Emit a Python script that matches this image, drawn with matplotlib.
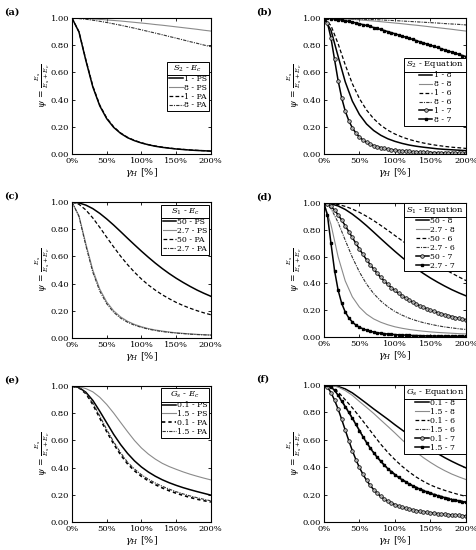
import matplotlib
matplotlib.use("Agg")
import matplotlib.pyplot as plt
from matplotlib.lines import Line2D
from matplotlib.ticker import FuncFormatter, MultipleLocator

plt.rcParams['font.family'] = ['DejaVu Serif']
plt.rcParams['mathtext.fontset'] = 'dejavuserif'
plt.rcParams['font.size'] = 6

# shear strain grids (%)
gamma_10 = [0, 10, 20, 30, 40, 50, 60, 70, 80, 90, 100,
            110, 120, 130, 140, 150, 160, 170, 180, 190, 200]
gamma_5 = [0, 5, 10, 15, 20, 25, 30, 35, 40, 45, 50, 55, 60, 65, 70, 75, 80,
           85, 90, 95, 100, 105, 110, 115, 120, 125, 130, 135, 140, 145, 150,
           155, 160, 165, 170, 175, 180, 185, 190, 195, 200]

# (a) S2 - Ec
a_1_ps = [1.000, 0.898, 0.687, 0.493, 0.354, 0.260, 0.196, 0.152, 0.120, 0.098, 0.081,
          0.068, 0.057, 0.049, 0.043, 0.037, 0.033, 0.029, 0.026, 0.024, 0.021]
a_8_ps = [1.000, 0.999, 0.997, 0.994, 0.991, 0.987, 0.983, 0.979, 0.974, 0.969, 0.964,
          0.959, 0.953, 0.948, 0.942, 0.936, 0.930, 0.924, 0.918, 0.911, 0.905]
a_1_pa = [1.000, 0.900, 0.692, 0.500, 0.360, 0.265, 0.200, 0.155, 0.123, 0.100, 0.083,
          0.069, 0.059, 0.051, 0.044, 0.038, 0.034, 0.030, 0.027, 0.024, 0.022]
a_8_pa = [1.000, 0.997, 0.992, 0.985, 0.977, 0.968, 0.958, 0.948, 0.937, 0.926, 0.914,
          0.902, 0.890, 0.878, 0.865, 0.853, 0.840, 0.827, 0.815, 0.802, 0.790]

# (b) S2 - Equation
b_1_8 = [1.000, 0.911, 0.719, 0.532, 0.390, 0.291, 0.221, 0.173, 0.138, 0.112, 0.093,
         0.078, 0.066, 0.057, 0.050, 0.044, 0.038, 0.034, 0.031, 0.028, 0.025]
b_8_8 = [1.000, 0.999, 0.997, 0.994, 0.991, 0.987, 0.983, 0.979, 0.974, 0.969, 0.964,
         0.959, 0.953, 0.948, 0.942, 0.936, 0.930, 0.924, 0.918, 0.911, 0.905]
b_1_6 = [1.000, 0.945, 0.812, 0.657, 0.518, 0.408, 0.324, 0.260, 0.212, 0.175, 0.147,
         0.125, 0.107, 0.093, 0.081, 0.071, 0.063, 0.056, 0.050, 0.046, 0.041]
b_8_6 = [1.000, 0.999, 0.998, 0.997, 0.995, 0.993, 0.991, 0.989, 0.987, 0.984, 0.982,
         0.979, 0.976, 0.973, 0.970, 0.967, 0.964, 0.960, 0.957, 0.954, 0.950]
b_1_7 = [1.000, 0.966, 0.853, 0.696, 0.541, 0.414, 0.317, 0.246, 0.193, 0.155, 0.125,
         0.103, 0.086, 0.073, 0.062, 0.054, 0.047, 0.041, 0.036, 0.032, 0.028,
         0.025, 0.023, 0.021, 0.019, 0.017, 0.016, 0.014, 0.013, 0.012, 0.011,
         0.010, 0.010, 0.009, 0.009, 0.008, 0.008, 0.007, 0.007, 0.006, 0.006]
b_8_7 = [1.000, 0.999, 0.997, 0.994, 0.990, 0.986, 0.981, 0.976, 0.971, 0.965, 0.959,
         0.952, 0.946, 0.939, 0.931, 0.924, 0.917, 0.909, 0.901, 0.893, 0.885,
         0.877, 0.868, 0.860, 0.852, 0.843, 0.835, 0.826, 0.818, 0.809, 0.801,
         0.792, 0.784, 0.775, 0.767, 0.758, 0.750, 0.742, 0.733, 0.725, 0.717]

# (c) S1 - Ec
c_50_ps = [1.000, 0.994, 0.978, 0.952, 0.917, 0.876, 0.831, 0.783, 0.734, 0.686, 0.639,
           0.594, 0.551, 0.511, 0.474, 0.440, 0.409, 0.380, 0.353, 0.329, 0.307]
c_27_ps = [1.000, 0.900, 0.692, 0.500, 0.360, 0.265, 0.200, 0.155, 0.123, 0.100, 0.083,
           0.069, 0.059, 0.051, 0.044, 0.038, 0.034, 0.030, 0.027, 0.024, 0.022]
c_50_pa = [1.000, 0.984, 0.942, 0.883, 0.814, 0.741, 0.670, 0.602, 0.540, 0.484, 0.434,
           0.390, 0.352, 0.318, 0.289, 0.262, 0.239, 0.219, 0.201, 0.185, 0.171]
c_27_pa = [1.000, 0.894, 0.678, 0.483, 0.345, 0.252, 0.189, 0.146, 0.116, 0.094, 0.078,
           0.065, 0.055, 0.047, 0.041, 0.036, 0.032, 0.028, 0.025, 0.023, 0.021]

# (d) S1 - Equation
d_50_8 = [1.000, 0.994, 0.978, 0.952, 0.917, 0.876, 0.831, 0.783, 0.734, 0.686, 0.639,
          0.594, 0.551, 0.511, 0.474, 0.440, 0.409, 0.380, 0.353, 0.329, 0.307]
d_27_8 = [1.000, 0.839, 0.599, 0.419, 0.300, 0.223, 0.171, 0.135, 0.110, 0.091, 0.076,
          0.065, 0.056, 0.049, 0.043, 0.038, 0.034, 0.031, 0.028, 0.025, 0.023]
d_50_6 = [1.000, 0.997, 0.989, 0.975, 0.955, 0.930, 0.901, 0.869, 0.833, 0.796, 0.757,
          0.719, 0.680, 0.643, 0.607, 0.571, 0.538, 0.506, 0.476, 0.448, 0.421]
d_27_6 = [1.000, 0.959, 0.855, 0.723, 0.595, 0.485, 0.395, 0.324, 0.269, 0.225, 0.190,
          0.163, 0.140, 0.122, 0.107, 0.095, 0.084, 0.075, 0.068, 0.061, 0.056]
d_50_7 = [1.000, 0.993, 0.974, 0.947, 0.912, 0.873, 0.831, 0.787, 0.743, 0.699, 0.657,
          0.616, 0.577, 0.541, 0.507, 0.475, 0.445, 0.418, 0.392, 0.368, 0.347,
          0.326, 0.308, 0.291, 0.275, 0.260, 0.246, 0.233, 0.222, 0.211, 0.200,
          0.191, 0.182, 0.174, 0.166, 0.159, 0.152, 0.145, 0.139, 0.134, 0.128]
d_27_7 = [1.000, 0.908, 0.698, 0.496, 0.350, 0.252, 0.187, 0.143, 0.112, 0.089, 0.073,
          0.061, 0.051, 0.043, 0.037, 0.032, 0.028, 0.025, 0.022, 0.020, 0.018,
          0.016, 0.015, 0.014, 0.012, 0.011, 0.011, 0.010, 0.009, 0.008, 0.008,
          0.007, 0.007, 0.006, 0.006, 0.006, 0.005, 0.005, 0.005, 0.005, 0.004]

# (e) Gs - Ec
e_01_ps = [1.000, 0.990, 0.955, 0.895, 0.815, 0.730, 0.645, 0.570, 0.505, 0.450, 0.405,
           0.368, 0.337, 0.311, 0.289, 0.270, 0.253, 0.238, 0.224, 0.211, 0.198]
e_15_ps = [1.000, 0.996, 0.982, 0.958, 0.918, 0.865, 0.802, 0.733, 0.665, 0.600, 0.545,
           0.500, 0.463, 0.432, 0.408, 0.388, 0.369, 0.352, 0.337, 0.323, 0.310]
e_01_pa = [1.000, 0.988, 0.945, 0.865, 0.765, 0.665, 0.575, 0.495, 0.428, 0.377, 0.336,
           0.303, 0.275, 0.251, 0.230, 0.212, 0.196, 0.181, 0.168, 0.157, 0.147]
e_15_pa = [1.000, 0.990, 0.950, 0.875, 0.780, 0.680, 0.590, 0.510, 0.440, 0.390, 0.348,
           0.315, 0.287, 0.263, 0.242, 0.223, 0.207, 0.192, 0.179, 0.167, 0.156]

# (f) Gs - Equation
f_01_8 = [1.000, 0.999, 0.990, 0.972, 0.943, 0.905, 0.866, 0.826, 0.788, 0.750, 0.710,
          0.672, 0.635, 0.598, 0.563, 0.530, 0.500, 0.470, 0.443, 0.418, 0.395]
f_15_8 = [1.000, 0.998, 0.985, 0.960, 0.925, 0.880, 0.837, 0.793, 0.745, 0.698, 0.650,
          0.600, 0.553, 0.510, 0.470, 0.435, 0.403, 0.375, 0.350, 0.329, 0.310]
f_01_6 = [1.000, 0.993, 0.950, 0.893, 0.834, 0.770, 0.703, 0.635, 0.568, 0.508, 0.455,
          0.407, 0.365, 0.328, 0.297, 0.270, 0.249, 0.231, 0.215, 0.200, 0.187]
f_15_6 = [1.000, 0.988, 0.930, 0.848, 0.763, 0.673, 0.586, 0.510, 0.447, 0.394, 0.350,
          0.313, 0.282, 0.256, 0.233, 0.214, 0.197, 0.182, 0.169, 0.158, 0.148]
f_01_7 = [1.000, 0.985, 0.945, 0.890, 0.825, 0.750, 0.672, 0.595, 0.522, 0.456, 0.398,
          0.348, 0.305, 0.268, 0.237, 0.210, 0.187, 0.168, 0.152, 0.139, 0.127,
          0.117, 0.109, 0.101, 0.095, 0.089, 0.083, 0.079, 0.074, 0.070, 0.067,
          0.064, 0.061, 0.058, 0.056, 0.054, 0.052, 0.050, 0.048, 0.046, 0.045]
f_15_7 = [1.000, 0.997, 0.985, 0.962, 0.925, 0.882, 0.842, 0.800, 0.757, 0.713, 0.667,
          0.622, 0.580, 0.541, 0.505, 0.472, 0.442, 0.414, 0.389, 0.366, 0.345,
          0.326, 0.308, 0.292, 0.277, 0.263, 0.251, 0.239, 0.228, 0.218, 0.209,
          0.200, 0.192, 0.184, 0.177, 0.170, 0.164, 0.158, 0.153, 0.148, 0.143]

GRAY = '#8a8a8a'
DARK = '#333333'

# line styles
s_solid = dict(color='black', lw=1.1)
s_gray = dict(color=GRAY, lw=0.8)
s_dash = dict(color='black', lw=0.9, dashes=(3, 1.8))
s_dashdot = dict(color=DARK, lw=0.8, dashes=(3, 1, 1, 1))
s_circ = dict(color='black', lw=1.1, marker='o', ms=2.6, mfc='#b0b0b0', mec='black', mew=0.5)
s_sq = dict(color='black', lw=1.1, marker='s', ms=2.0, mfc='black', mec='black')

panels = [
    # label, axes rect (l, b, w, h), legend title, series, legend anchor
    ('(a)', (0.151, 0.720, 0.291, 0.247), r'$S_2$ - $E_c$',
     [(gamma_10, a_1_ps, '1 - PS', s_solid), (gamma_10, a_8_ps, '8 - PS', s_gray),
      (gamma_10, a_1_pa, '1 - PA', s_dash), (gamma_10, a_8_pa, '8 - PA', s_dashdot)],
     (0.985, 0.68)),
    ('(b)', (0.679, 0.720, 0.298, 0.247), r'$S_2$ - Equation',
     [(gamma_10, b_1_8, '1 - 8', s_solid), (gamma_10, b_8_8, '8 - 8', s_gray),
      (gamma_10, b_1_6, '1 - 6', s_dash), (gamma_10, b_8_6, '8 - 6', s_dashdot),
      (gamma_5, b_1_7, '1 - 7', s_circ), (gamma_5, b_8_7, '8 - 7', s_sq)],
     (1.0, 0.71)),
    ('(c)', (0.151, 0.3855, 0.291, 0.247), r'$S_1$ - $E_c$',
     [(gamma_10, c_50_ps, '50 - PS', s_solid), (gamma_10, c_27_ps, '2.7 - PS', s_gray),
      (gamma_10, c_50_pa, '50 - PA', s_dash), (gamma_10, c_27_pa, '2.7 - PA', s_dashdot)],
     (0.99, 0.98)),
    ('(d)', (0.679, 0.3873, 0.298, 0.2436), r'$S_1$ - Equation',
     [(gamma_10, d_50_8, '50 - 8', s_solid), (gamma_10, d_27_8, '2.7 - 8', s_gray),
      (gamma_10, d_50_6, '50 - 6', s_dash), (gamma_10, d_27_6, '2.7 - 6', s_dashdot),
      (gamma_5, d_50_7, '50 - 7', s_circ), (gamma_5, d_27_7, '2.7 - 7', s_sq)],
     (1.0, 1.0)),
    ('(e)', (0.151, 0.0509, 0.291, 0.247), r'$G_s$ - $E_c$',
     [(gamma_10, e_01_ps, '0.1 - PS', s_solid), (gamma_10, e_15_ps, '1.5 - PS', s_gray),
      (gamma_10, e_01_pa, '0.1 - PA', dict(color='black', lw=1.2, dashes=(2, 1.8))),
      (gamma_10, e_15_pa, '1.5 - PA', s_dashdot)],
     (0.99, 0.985)),
    ('(f)', (0.679, 0.0509, 0.298, 0.249), r'$G_s$ - Equation',
     [(gamma_10, f_01_8, '0.1 - 8', s_solid), (gamma_10, f_15_8, '1.5 - 8', s_gray),
      (gamma_10, f_01_6, '0.1 - 6', s_dash), (gamma_10, f_15_6, '1.5 - 6', s_dashdot),
      (gamma_5, f_01_7, '0.1 - 7', s_circ), (gamma_5, f_15_7, '1.5 - 7', s_sq)],
     (1.0, 1.0)),
]

fig = plt.figure(figsize=(4.77, 5.5), dpi=100)
legends = []
for label, rect, title, series, anchor in panels:
    ax = fig.add_axes(rect)
    for xs, ys, name, style in series:
        ax.plot(xs, ys, label=name, **style)
    ax.set_xlim(0, 200)
    ax.set_ylim(0, 1)
    ax.xaxis.set_major_locator(MultipleLocator(50))
    ax.yaxis.set_major_locator(MultipleLocator(0.2))
    ax.xaxis.set_major_formatter(FuncFormatter(lambda v, p: f'{v:.0f}%'))
    ax.yaxis.set_major_formatter(FuncFormatter(lambda v, p: f'{v:.2f}'))
    ax.tick_params(direction='in', top=True, right=True, length=2.2, width=0.6,
                   labelsize=6, pad=2)
    for sp in ax.spines.values():
        sp.set_linewidth(0.8)
    ax.set_xlabel(r'$\gamma_H$ [%]', fontsize=7, labelpad=1)
    ax.set_ylabel(r'$\psi\,=\,\frac{E_s}{E_s+E_c}$', fontsize=6.5, labelpad=-1)
    leg = ax.legend(title=title, loc='upper right', bbox_to_anchor=anchor,
                    fontsize=5.6, title_fontsize=6, frameon=True, fancybox=False,
                    framealpha=1, edgecolor='black', borderpad=0.25,
                    labelspacing=0.12, handlelength=1.7, handletextpad=0.15,
                    borderaxespad=0.0)
    leg.get_frame().set_linewidth(0.7)
    legends.append(leg)
    fig.text(rect[0] - 0.143, rect[1] + rect[3] + 0.003, label, fontsize=7,
             fontweight='bold', va='bottom', ha='left')

# separator line under each legend title
fig.canvas.draw()
inv = fig.transFigure.inverted()
for leg in legends:
    fb = leg.get_frame().get_window_extent()
    tb = leg.get_title().get_window_extent()
    y = tb.y0 - 1.2
    (x0, yy), (x1, _) = inv.transform([(fb.x0, y), (fb.x1, y)])
    fig.add_artist(Line2D([x0, x1], [yy, yy], transform=fig.transFigure,
                          color='black', lw=0.7))

fig.savefig('out.png', dpi=100)
plt.close(fig)
